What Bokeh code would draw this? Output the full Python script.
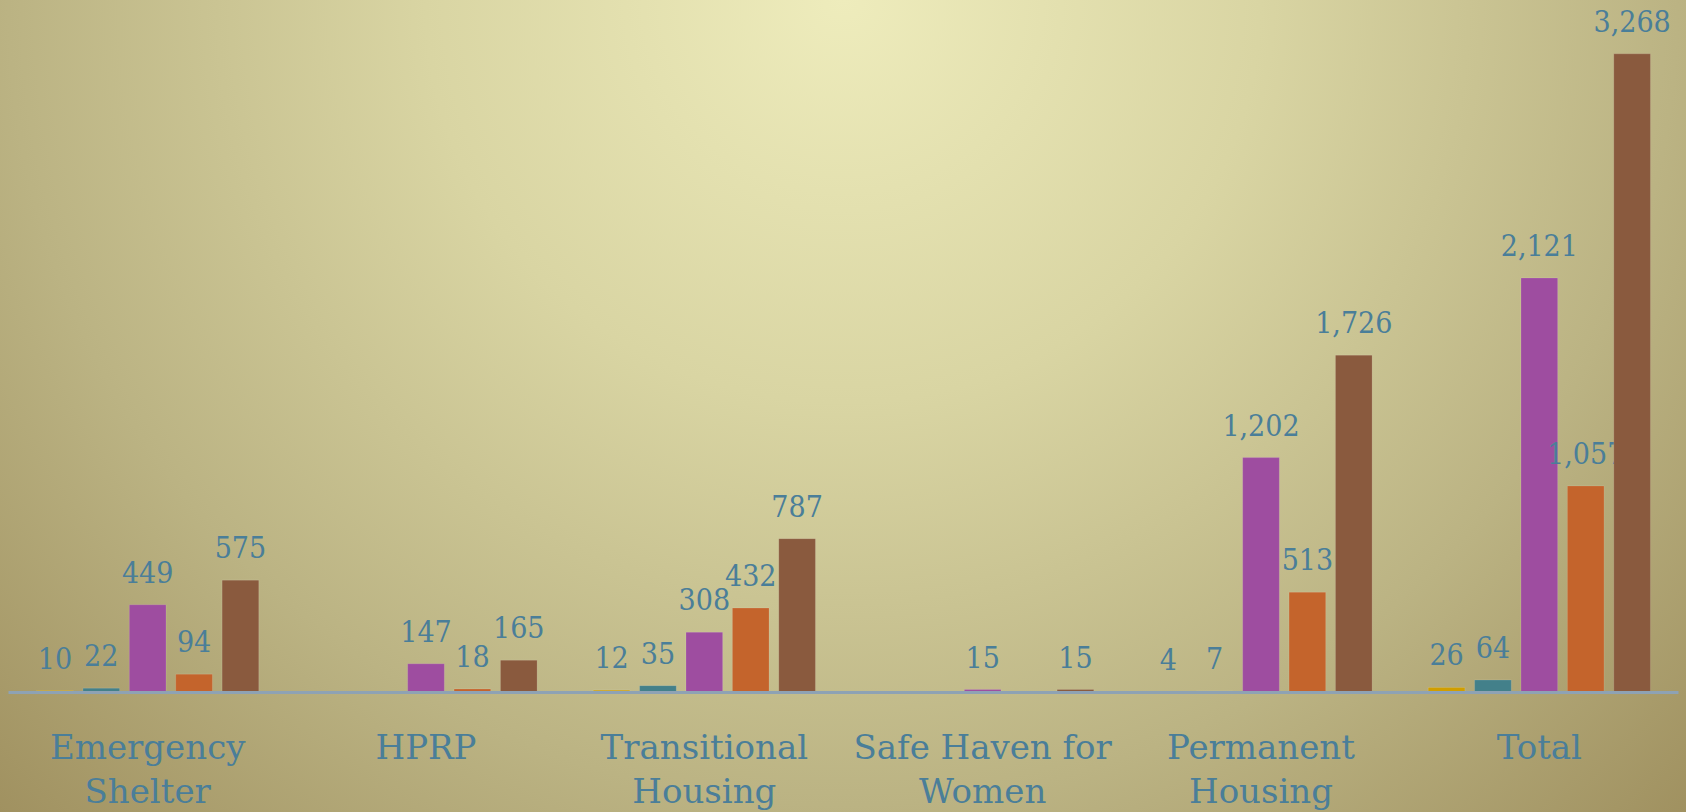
from bokeh.plotting import figure
from bokeh.models import ColumnDataSource, Range1d, FixedTicker
from bokeh.core.properties import value
from bokeh.embed import file_html
from bokeh.resources import INLINE

categories = ["Emergency Shelter", "HPRP", "Transitional Housing",
              "Safe Haven for Women", "Permanent Housing", "Total"]
tick_labels = ["Emergency\nShelter", "HPRP", "Transitional\nHousing",
               "Safe Haven for\nWomen", "Permanent\nHousing", "Total"]
series_1 = [10, 0, 12, 0, 4, 26]
series_2 = [22, 0, 35, 0, 7, 64]
series_3 = [449, 147, 308, 15, 1202, 2121]
series_4 = [94, 18, 432, 0, 513, 1057]
series_5 = [575, 165, 787, 15, 1726, 3268]
series = [series_1, series_2, series_3, series_4, series_5]
colors = ["#D09E00", "#43808A", "#9E4DA0", "#C4642C", "#8A5A3E"]

VAL_FONT = "DejaVu Serif Condensed"
CAT_FONT = "DejaVu Serif"
TEXT_COLOR = "#4A7E99"

p = figure(frame_width=1670, frame_height=684, x_range=Range1d(0, 6), y_range=Range1d(0, 3500),
           output_backend="svg", toolbar_location=None,
           min_border_left=8, min_border_right=8, min_border_top=8, min_border_bottom=120)
p.background_fill_alpha = 0
p.border_fill_alpha = 0
p.outline_line_color = None
p.styles = {"background": "radial-gradient(ellipse farthest-corner at 50% 0%, #EEECBC 0%, #D9D5A3 35%, #BBB383 70%, #A09160 100%)"}

bar_w = 0.79 / 6
for j, vals in enumerate(series):
    xs = [i + 0.5 + (j - 2) / 6 for i in range(len(categories))]
    src = ColumnDataSource(dict(x=xs, top=vals))
    p.vbar(x="x", top="top", bottom=0, width=bar_w, source=src,
           fill_color=colors[j], line_color="white", line_alpha=0.12, line_width=1)
    lx = [x for x, v in zip(xs, vals) if v > 0]
    ly = [v for v in vals if v > 0]
    lt = [f"{v:,}" for v in vals if v > 0]
    lsrc = ColumnDataSource(dict(x=lx, y=ly, t=lt))
    p.text(x="x", y="y", text="t", source=lsrc, text_align="center",
           text_baseline="alphabetic", y_offset=-33,
           text_font=value(VAL_FONT), text_font_size="30px", text_color=TEXT_COLOR)

p.yaxis.visible = False
p.xgrid.visible = False
p.ygrid.visible = False
ticks = [i + 0.5 for i in range(len(categories))]
p.xaxis.ticker = FixedTicker(ticks=ticks)
p.xaxis.major_label_overrides = {t: lab for t, lab in zip(ticks, tick_labels)}
p.xaxis.major_tick_line_color = None
p.xaxis.minor_tick_line_color = None
p.xaxis.axis_line_color = "#8EA2B4"
p.xaxis.axis_line_width = 3
p.xaxis.major_label_text_font = CAT_FONT
p.xaxis.major_label_text_font_size = "34px"
p.xaxis.major_label_text_color = TEXT_COLOR
p.xaxis.major_label_text_line_height = 1.1
p.xaxis.major_label_standoff = 28

open("out.html", "w").write(file_html(p, INLINE))
